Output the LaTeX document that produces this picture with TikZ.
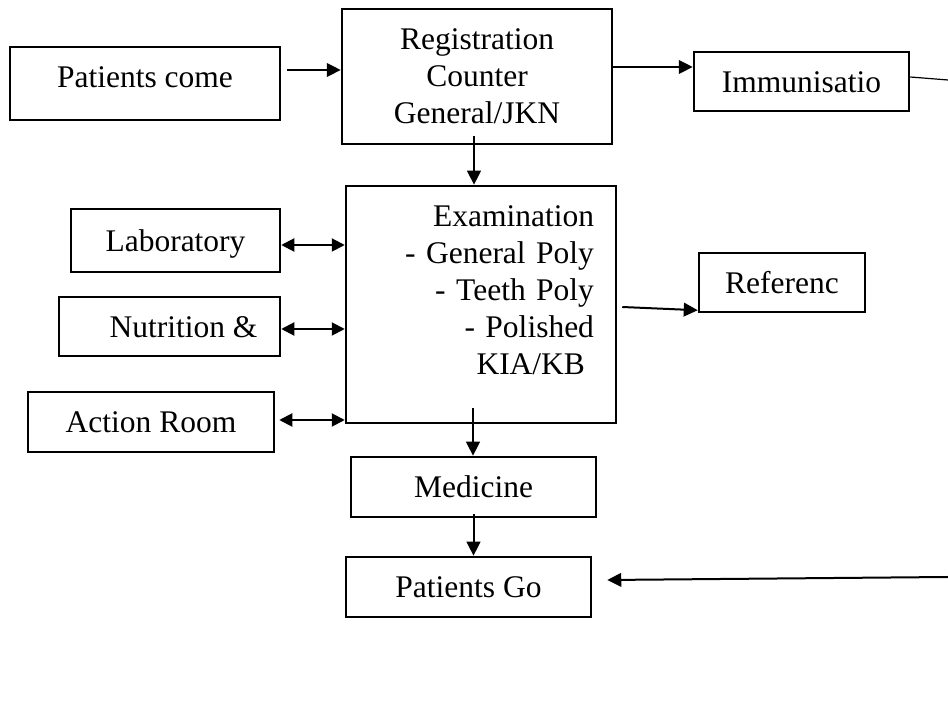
\documentclass[tikz,border=0pt]{standalone}
\usepackage{fontspec}
\setmainfont{Liberation Serif}
\usetikzlibrary{arrows.meta,calc}
\begin{document}
\begin{tikzpicture}[x=0.5pt,y=-0.5pt,
  box/.style={draw,line width=1.25pt,inner sep=0pt,font=\fontsize{15.75}{18.5}\selectfont},
  one/.style={box,text height=10.75pt,text depth=0pt},
  arr/.style={line width=1pt,-{Triangle[length=7pt,width=6.8pt]}},
  darr/.style={line width=1pt,{Triangle[length=6.5pt,width=6.5pt]}-{Triangle[length=6.5pt,width=6.5pt]}},
  thin/.style={line width=0.6pt}
]
\useasboundingbox (0,0) rectangle (948,704);

\node[one,minimum width=135pt,minimum height=36.5pt,text depth=6.25pt] (come) at (145,83.5) {Patients come};
\node[box,align=center,minimum width=135pt,minimum height=67.5pt] (reg) at (477,76.5) {Registration\\Counter\\General/JKN};
\node[one,minimum width=107.5pt,minimum height=29.5pt] (imm) at (801.5,81.5) {Immunisatio};
\node[box,minimum width=135pt,minimum height=118.5pt,inner xsep=0pt,text width=113pt,align=right] (exam) at (481,304.5)
  {Examination\\- General Poly\\- Teeth Poly\\- Polished\\KIA/KB\hspace*{4.5pt}\rule[-14pt]{0pt}{14pt}};
\node[one,minimum width=83pt,minimum height=29.5pt] (ref) at (782,282.5) {Referenc};
\node[one,minimum width=104.5pt,minimum height=31.5pt] (lab) at (175.5,240.5) {Laboratory};
\node[one,minimum width=110.5pt,minimum height=29.5pt] (nut) at (169.5,326.5) {\hspace*{14pt}Nutrition \&};
\node[one,minimum width=123pt,minimum height=30pt] (act) at (151,422) {Action Room};
\node[one,minimum width=122.5pt,minimum height=30pt] (med) at (473.5,487) {Medicine};
\node[one,minimum width=122.5pt,minimum height=30pt] (go) at (468.5,587) {Patients Go};

\coordinate (edge1) at (948,80);
\coordinate (edge2) at (948,577);

\draw[arr] ($(come.east)+(6,-13.5)$) coordinate (a1) -- (a1 -| reg.west);
\draw[arr] ($(reg.east)+(0,-9.5)$) coordinate (a2) -- (a2 -| imm.west);
\draw[thin] ($(imm.east)+(0,-4.5)$) -- (edge1);
\draw[arr] ($(reg.south)+(-3,-9)$) coordinate (a4) -- (a4 |- exam.north);
\draw[darr] ($(lab.east)+(0,4.5)$) coordinate (a5) -- (a5 -| exam.west);
\draw[darr] ($(nut.east)+(0,2.5)$) coordinate (a6) -- (a6 -| exam.west);
\draw[darr] ($(act.east)+(4,-2)$) coordinate (a7) -- (a7 -| exam.west);
\draw[arr] ($(exam.east)+(5,2.5)$) -- ($(ref.south west)+(0,-3)$);
\draw[arr] ($(exam.south)+(-8,-16)$) coordinate (a9) -- (a9 |- med.north);
\draw[arr] ($(med.south)+(0,-4)$) coordinate (a10) -- (a10 |- go.north);
\draw[arr] (edge2) -- ($(go.east)+(15,-7)$);
\end{tikzpicture}
\end{document}
